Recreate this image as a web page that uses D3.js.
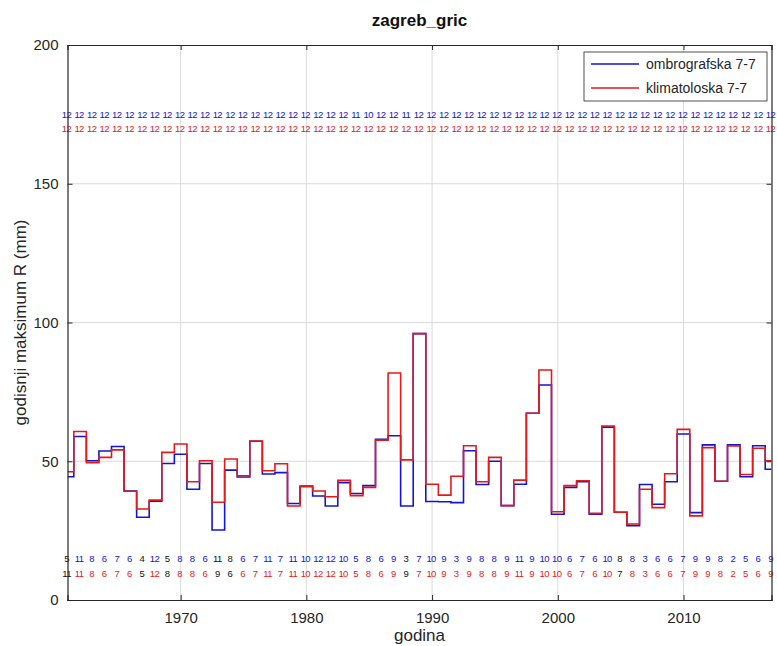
<!DOCTYPE html>
<html>
<head>
<meta charset="utf-8">
<script src="https://cdn.jsdelivr.net/npm/d3@7"></script>
<style>
  body { margin: 0; background: #fff; }
  text { font-family: "Liberation Sans", Arial, sans-serif; }
</style>
</head>
<body>
<div id="viz"></div>
<script>
// data
var years = [1961,1962,1963,1964,1965,1966,1967,1968,1969,1970,
             1971,1972,1973,1974,1975,1976,1977,1978,1979,1980,
             1981,1982,1983,1984,1985,1986,1987,1988,1989,1990,
             1991,1992,1993,1994,1995,1996,1997,1998,1999,2000,
             2001,2002,2003,2004,2005,2006,2007,2008,2009,2010,
             2011,2012,2013,2014,2015,2016,2017];

// ombrografska 7-7 (blue)
var ombro = [44.4,58.9,50.2,53.7,55.3,39.3,29.8,35.6,49.2,52.5,
             39.9,49.2,25.2,46.8,44.3,57.2,45.4,45.9,34.8,41.1,
             37.5,33.9,42.3,38.4,41.2,57.9,59.2,33.9,96.0,35.5,
             35.4,35.1,53.8,41.6,50.0,34.0,41.7,67.3,77.5,30.9,
             40.6,42.6,30.9,62.3,31.6,26.8,41.6,34.5,42.6,59.8,
             31.5,55.9,42.8,55.9,44.4,55.6,47.1];

// klimatoloska 7-7 (red)
var klima = [46.2,60.7,49.5,51.4,54.1,39.2,32.8,36.0,53.2,56.2,
             42.6,50.2,35.2,50.8,44.8,57.3,46.6,49.1,33.9,40.8,
             39.3,37.2,43.1,37.6,40.6,57.6,81.8,50.5,96.0,41.7,
             37.8,44.6,55.6,42.6,51.4,34.0,43.2,67.3,82.9,31.8,
             41.2,43.0,31.2,62.7,31.6,27.4,39.9,33.3,45.5,61.5,
             30.3,54.9,42.8,55.5,45.2,54.7,50.2];

// month of the yearly maximum
var ombroMonth = [5,11,8,6,7,6,4,12,5,8,8,6,11,8,6,7,11,7,11,10,
                  12,12,10,5,8,6,9,3,7,10,9,3,9,8,8,9,11,9,10,10,
                  6,7,6,10,8,8,3,6,6,7,9,9,8,2,5,6,9];
var klimaMonth = [11,11,8,6,7,6,5,12,8,8,8,6,9,6,6,7,11,7,11,10,
                  12,12,10,5,8,6,9,9,7,10,9,3,9,8,8,9,11,9,10,10,
                  6,7,6,10,7,8,3,6,6,7,9,9,8,2,5,6,9];

// number of months with data
var ombroCount = [12,12,12,12,12,12,12,12,12,12,12,12,12,12,12,12,12,12,12,12,
                  12,12,12,11,10,12,12,11,12,12,12,12,12,12,12,12,12,12,12,12,
                  12,12,12,12,12,12,12,12,12,12,12,12,12,12,12,12,12];
var klimaCount = [12,12,12,12,12,12,12,12,12,12,12,12,12,12,12,12,12,12,12,12,
                  12,12,12,12,12,12,12,12,12,12,12,12,12,12,12,12,12,12,12,12,
                  12,12,12,12,12,12,12,12,12,12,12,12,12,12,12,12,12];

var xTicks = [1970, 1980, 1990, 2000, 2010];
var yTicks = [0, 50, 100, 150, 200];

// rows where the small numbers sit, in data units
var rowOmbroCount = 175, rowKlimaCount = 170, rowOmbroMonth = 15, rowKlimaMonth = 9.5;

var blue = "#1414d2", red = "#e41a1a";

// set the dimensions and margins of the graph
var W = 777, H = 646;
var margin = {top: 45, right: 5.5, bottom: 46, left: 67.5},
    width = W - margin.left - margin.right,
    height = H - margin.top - margin.bottom;

var root = d3.select("#viz")
  .append("svg")
  .attr("width", W)
  .attr("height", H);

var svg = root.append("g")
  .attr("transform", "translate(" + margin.left + "," + margin.top + ")");

var x = d3.scaleLinear().domain([1961, 2017]).range([0, width]);
var y = d3.scaleLinear().domain([0, 200]).range([height, 0]);

// grid
svg.append("g").selectAll("line").data(xTicks).enter().append("line")
  .attr("x1", function(d) { return x(d); }).attr("x2", function(d) { return x(d); })
  .attr("y1", 0).attr("y2", height)
  .attr("stroke", "#dadada").attr("stroke-width", 1);
svg.append("g").selectAll("line").data(yTicks.slice(1, -1)).enter().append("line")
  .attr("y1", function(d) { return y(d); }).attr("y2", function(d) { return y(d); })
  .attr("x1", 0).attr("x2", width)
  .attr("stroke", "#dadada").attr("stroke-width", 1);

// step lines, blue under red
svg.append("clipPath").attr("id", "clip")
  .append("rect").attr("width", width).attr("height", height);

function stepLine(vals) {
  return d3.line()
    .x(function(d, i) { return x(years[i]); })
    .y(function(d) { return y(d); })
    .curve(d3.curveStep)(vals);
}

svg.append("path")
  .attr("d", stepLine(ombro))
  .attr("fill", "none").attr("stroke", blue).attr("stroke-width", 1.6)
  .attr("clip-path", "url(#clip)");
svg.append("path")
  .attr("d", stepLine(klima))
  .attr("fill", "none").attr("stroke", red).attr("stroke-width", 1.6)
  .attr("clip-path", "url(#clip)");

// small number rows
function numberRow(vals, row, colorFn) {
  svg.append("g").selectAll("text").data(vals).enter().append("text")
    .attr("x", function(d, i) { return x(years[i]) - 1; })
    .attr("y", y(row))
    .attr("dy", "0.35em")
    .attr("text-anchor", "middle")
    .style("font-size", "9.5px")
    .style("letter-spacing", "-0.6px")
    .attr("fill", colorFn)
    .text(function(d) { return d; });
}
numberRow(ombroCount, rowOmbroCount, function() { return blue; });
numberRow(klimaCount, rowKlimaCount, function() { return red; });
// month turns black where the two series disagree
numberRow(ombroMonth, rowOmbroMonth, function(d, i) { return d === klimaMonth[i] ? blue : "#111"; });
numberRow(klimaMonth, rowKlimaMonth, function(d, i) { return d === ombroMonth[i] ? red : "#111"; });

// axes, ticks pointing inward
var axisColor = "#262626";
var gx = svg.append("g")
  .attr("transform", "translate(0," + height + ")")
  .call(d3.axisBottom(x).tickValues(xTicks).tickFormat(d3.format("d")).tickSize(-5).tickPadding(12));
var gxTop = svg.append("g")
  .call(d3.axisTop(x).tickValues(xTicks).tickFormat("").tickSize(-5));
var gy = svg.append("g")
  .call(d3.axisLeft(y).tickValues(yTicks).tickSize(-5).tickPadding(9));
var gyRight = svg.append("g")
  .attr("transform", "translate(" + width + ",0)")
  .call(d3.axisRight(y).tickValues(yTicks).tickFormat("").tickSize(-5));

[gx, gxTop, gy, gyRight].forEach(function(g) {
  g.select(".domain").attr("stroke", axisColor).attr("stroke-width", 1.2);
  g.selectAll(".tick line").attr("stroke", axisColor);
  g.selectAll(".tick text")
    .attr("fill", axisColor)
    .style("font-size", "15px")
    .style("font-family", "'Liberation Sans', Arial, sans-serif");
});

// legend
var lg = svg.append("g").attr("transform", "translate(" + (584 - margin.left) + "," + (52 - margin.top) + ")");
lg.append("rect").attr("width", 183).attr("height", 49)
  .attr("fill", "#fff").attr("stroke", axisColor).attr("stroke-width", 0.8);
var legendItems = [["ombrografska 7-7", blue], ["klimatoloska 7-7", red]];
legendItems.forEach(function(it, i) {
  var ly = 12 + i * 24;
  lg.append("line").attr("x1", 7).attr("x2", 55).attr("y1", ly).attr("y2", ly)
    .attr("stroke", it[1]).attr("stroke-width", 1.6);
  lg.append("text").attr("x", 62).attr("y", ly).attr("dy", "0.35em")
    .style("font-size", "14px").attr("fill", axisColor).text(it[0]);
});

// title and axis labels
root.append("text")
  .attr("x", margin.left + width / 2).attr("y", 26)
  .attr("text-anchor", "middle")
  .style("font-size", "17px").style("font-weight", "bold")
  .attr("fill", "#111")
  .text("zagreb_gric");

root.append("text")
  .attr("x", margin.left + width / 2).attr("y", 641)
  .attr("text-anchor", "middle")
  .style("font-size", "17px")
  .attr("fill", axisColor)
  .text("godina");

root.append("text")
  .attr("transform", "translate(20," + (margin.top + height / 2) + ") rotate(-90)")
  .attr("dy", "0.35em")
  .attr("text-anchor", "middle")
  .style("font-size", "17px")
  .attr("fill", axisColor)
  .text("godisnji maksimum R (mm)");
</script>
</body>
</html>
